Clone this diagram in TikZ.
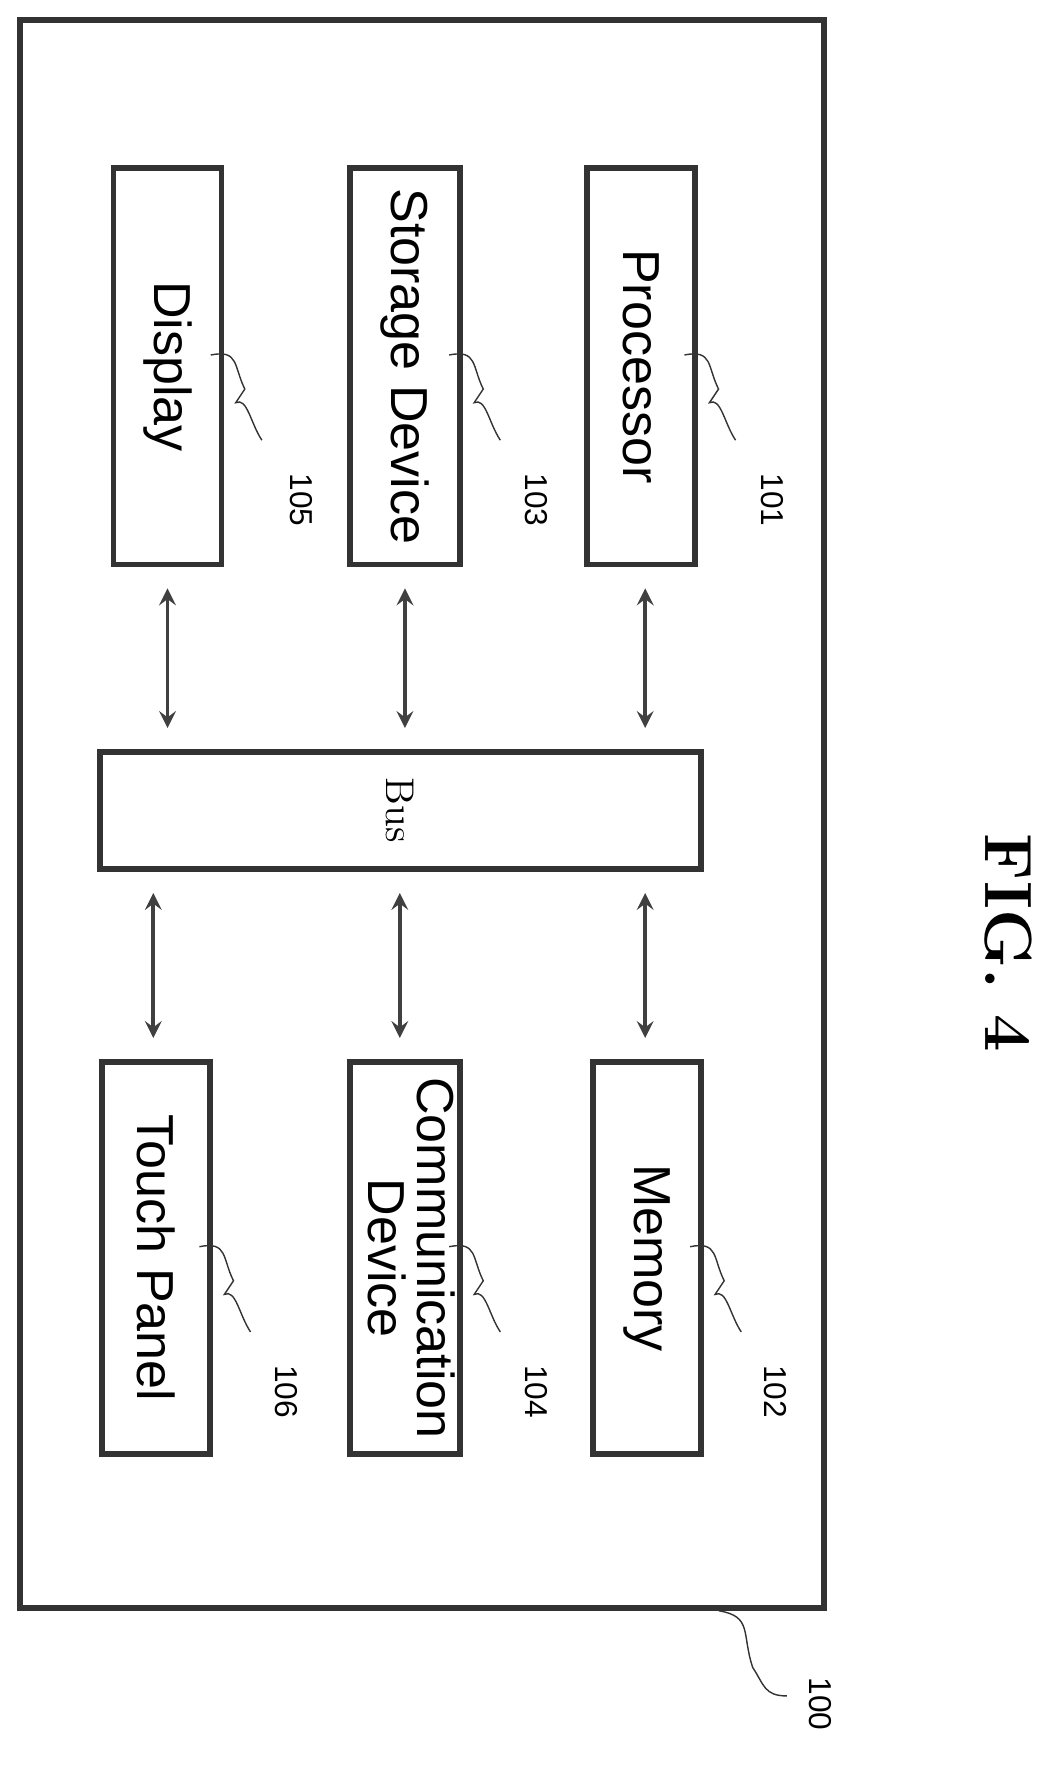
\documentclass[tikz,border=0pt]{standalone}
\usepackage{fontspec}
\setsansfont{Liberation Sans}
\usetikzlibrary{calc}
\newcommand{\rot}[1]{\rotatebox{-90}{#1}}
\newcommand{\squig}[1]{\draw[black!80] ($(#1)+(-12,-10)$) .. controls +(25,-5) and +(-10,-20) .. +(30,30) -- +(22,42) .. controls +(10,-5) and +(-10,-15) .. +(45,75);}
\begin{document}
\begin{tikzpicture}[x=0.01136cm,y=-0.01136cm,
  blk/.style={draw=black!80,line width=1.6pt,font=\sffamily\fontsize{14.8}{17}\selectfont,inner sep=0pt},
  num/.style={font=\sffamily\fontsize{9}{10}\selectfont},
  link/.style={<->,>=stealth,black!75,line width=1.1pt,shorten <=6,shorten >=6}]
\useasboundingbox (0,0) rectangle (929.6,1567);
% outer box
\node[blk,minimum width=8.03cm,minimum height=15.87cm] (dev) at (371.5,716.5) {};
% upper row
\node[blk,minimum width=1.08cm,minimum height=3.96cm] (proc) at (564.5,322.5) {\rot{Processor}};
\node[blk,minimum width=1.10cm,minimum height=3.96cm] (stor) at (356.5,322.5) {\rot{Storage Device}};
\node[blk,minimum width=1.08cm,minimum height=3.96cm] (disp) at (147.5,322.5) {\rot{Display}};
% bus
\node[blk,font=\rmfamily\fontsize{11.4}{13}\selectfont,minimum width=6.01cm,minimum height=1.17cm] (bus) at (352.5,713.5) {\rot{Bus}};
% lower row
\node[blk,minimum width=1.08cm,minimum height=3.92cm] (mem) at (569.5,1107.5) {\rot{Memory}};
\node[blk,minimum width=1.10cm,minimum height=3.92cm] (comm) at (356.5,1107.5) {\rot{\begin{tabular}{@{}c@{}}Communication\\[-3pt]Device\end{tabular}}};
\node[blk,minimum width=1.08cm,minimum height=3.92cm] (touch) at (137.5,1107.5) {\rot{Touch Panel}};
% connectors
\coordinate (xa) at (568,0);
\coordinate (xb) at (352,0);
\coordinate (xc) at (135,0);
\draw[link] (proc.south -| xa) -- (bus.north -| xa);
\draw[link] (stor.south) -- (stor.south |- bus.north);
\draw[link] (disp.south) -- (disp.south |- bus.north);
\draw[link] (bus.south -| xa) -- (mem.north -| xa);
\draw[link] (bus.south -| xb) -- (comm.north -| xb);
\draw[link] (bus.south -| xc) -- (touch.north -| xc);
% reference numerals
\squig{proc.east} \node[num] (n101) at (680,440) {\rot{101}};
\squig{stor.east} \node[num] (n103) at (472,440) {\rot{103}};
\squig{disp.east} \node[num] (n105) at (265,440) {\rot{105}};
\squig{mem.east} \node[num] (n102) at (683,1225) {\rot{102}};
\squig{comm.east} \node[num] (n104) at (472,1225) {\rot{104}};
\squig{touch.east} \node[num] (n106) at (252,1225) {\rot{106}};
\draw[black!80] (dev.south east) ++(-95,0) .. controls +(30,5) and +(-10,-30) .. +(30,50) .. controls +(10,15) and +(-20,0) .. +(60,75);
\node[num] (n100) at (722,1500) {\rot{100}};
\node[font=\rmfamily\bfseries\fontsize{19}{22}\selectfont] (fig) at (888,830) {\rot{FIG. 4}};
\end{tikzpicture}
\end{document}
